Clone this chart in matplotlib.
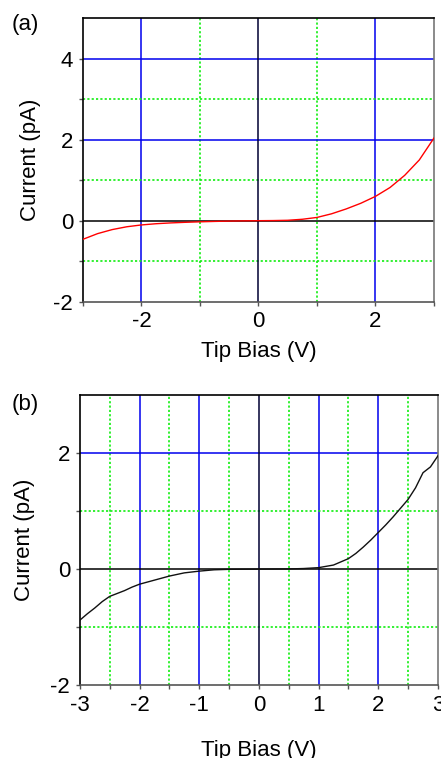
import matplotlib
matplotlib.use("Agg")
import matplotlib.pyplot as plt

plt.rcParams['font.family'] = ['Liberation Sans', 'DejaVu Sans']
plt.rcParams['axes.unicode_minus'] = False

# panel (a): smooth I-V curve, red
bias_a = [-3.0, -2.75, -2.5, -2.25, -2.0, -1.75, -1.5, -1.25, -1.0, -0.75, -0.5, -0.25,
          0.0, 0.25, 0.5, 0.75, 1.0, 1.25, 1.5, 1.75, 2.0, 2.25, 2.5, 2.75, 3.0]
current_a = [-0.46, -0.32, -0.22, -0.15, -0.105, -0.075, -0.055, -0.04, -0.028, -0.018, -0.01, -0.004,
             0.0, 0.003, 0.01, 0.035, 0.08, 0.17, 0.29, 0.43, 0.6, 0.82, 1.12, 1.5, 2.04]

# panel (b): measured I-V curve, black, slightly wobbly
bias_b = [-3.0, -2.875, -2.75, -2.625, -2.5, -2.375, -2.25, -2.125, -2.0, -1.75, -1.5, -1.25,
          -1.0, -0.75, -0.5, 0.0, 0.5, 0.75, 1.0, 1.25, 1.5, 1.625, 1.75, 1.875, 2.0,
          2.125, 2.25, 2.375, 2.5, 2.625, 2.75, 2.875, 3.0]
current_b = [-0.88, -0.77, -0.67, -0.56, -0.47, -0.42, -0.37, -0.31, -0.26, -0.19, -0.12, -0.065,
             -0.035, -0.012, -0.004, 0.0, 0.003, 0.01, 0.025, 0.07, 0.18, 0.27, 0.38, 0.50, 0.63,
             0.76, 0.90, 1.05, 1.20, 1.40, 1.66, 1.76, 1.95]

# grid positions for each panel
a_blue_x, a_green_x = [-2, 2], [-1, 1]
a_blue_y, a_green_y = [2, 4], [-1, 1, 3]
b_blue_x, b_green_x = [-2, -1, 1, 2], [-2.5, -1.5, -0.5, 0.5, 1.5, 2.5]
b_blue_y, b_green_y = [2], [-1, 1]

blue = '#0000ee'
green = '#11ee11'
dots = (0, (1.3, 1.3))


def style_axes(ax, blue_x, green_x, blue_y, green_y):
    for x in blue_x:
        ax.axvline(x, color=blue, lw=1.1, zorder=1)
    for x in green_x:
        ax.axvline(x, color=green, lw=1.2, ls=dots, zorder=1)
    for y in blue_y:
        ax.axhline(y, color=blue, lw=1.1, zorder=1)
    for y in green_y:
        ax.axhline(y, color=green, lw=1.2, ls=dots, zorder=1)
    ax.axvline(0, color='#000033', lw=1.1, zorder=1.5)
    ax.axhline(0, color='black', lw=1.1, zorder=1.5)
    ax.spines['left'].set_color('black')
    ax.spines['top'].set_color('black')
    ax.spines['bottom'].set_color('#555555')
    ax.spines['right'].set_color('#777777')
    for s in ax.spines.values():
        s.set_linewidth(1.2)
    ax.tick_params(which='both', direction='out', length=3, width=1, color='#555555',
                   labelsize=16, pad=4)
    ax.tick_params(which='minor', length=3)


fig = plt.figure(figsize=(4.41, 7.58), dpi=100)

ax1 = fig.add_axes([0.188, 0.602, 0.796, 0.374])
style_axes(ax1, a_blue_x, a_green_x, a_blue_y, a_green_y)
ax1.plot(bias_a, current_a, color='red', lw=1.0, zorder=3)
ax1.set_xlim(-3, 3)
ax1.set_ylim(-2, 5)
ax1.set_xticks([-2, 0, 2])
ax1.set_xticks([-3, -1, 1, 3], minor=True)
ax1.set_yticks([-2, 0, 2, 4])
ax1.set_yticks([-1, 1, 3], minor=True)
ax1.set_xlabel('Tip Bias (V)', fontsize=16, labelpad=6)
ax1.set_ylabel('Current (pA)', fontsize=16, labelpad=9)
fig.text(0.027, 0.968, '(a)', fontsize=16, va='center')

ax2 = fig.add_axes([0.181, 0.096, 0.812, 0.383])
style_axes(ax2, b_blue_x, b_green_x, b_blue_y, b_green_y)
ax2.plot(bias_b, current_b, color='#111111', lw=1.0, zorder=3)
ax2.set_xlim(-3, 3)
ax2.set_ylim(-2, 3)
ax2.set_xticks([-3, -2, -1, 0, 1, 2, 3])
ax2.set_xticks([-2.5, -1.5, -0.5, 0.5, 1.5, 2.5], minor=True)
ax2.set_yticks([-2, 0, 2])
ax2.set_yticks([-1, 1], minor=True)
ax2.set_xlabel('Tip Bias (V)', fontsize=16, labelpad=17)
ax2.set_ylabel('Current (pA)', fontsize=16, labelpad=11)
fig.text(0.027, 0.466, '(b)', fontsize=16, va='center')

fig.savefig('out.png', dpi=100)
